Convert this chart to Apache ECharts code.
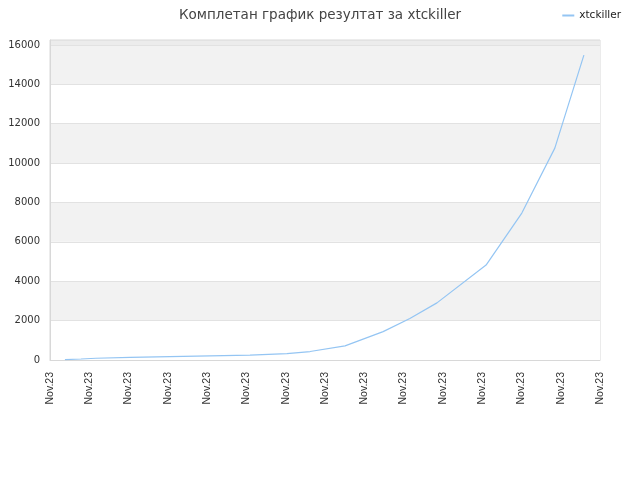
<!DOCTYPE html>
<html>
<head>
<meta charset="utf-8">
<script src="https://cdn.jsdelivr.net/npm/echarts@6/dist/echarts.min.js"></script>
<style>html,body{margin:0;padding:0;background:#fff}#c{width:640px;height:480px}</style>
</head>
<body>
<div id="c"></div>
<script>
// Tick labels along the x axis (15 ticks, all read "Nov.23")
const tickLabels = ["Nov.23","Nov.23","Nov.23","Nov.23","Nov.23","Nov.23","Nov.23","Nov.23","Nov.23","Nov.23","Nov.23","Nov.23","Nov.23","Nov.23","Nov.23"];
// Position of each data point measured in tick intervals from the first tick
const xPositions = [0.38, 0.79, 1.17, 2.04, 3.05, 4.07, 5.09, 6.03, 6.62, 7.51, 8.48, 9.16, 9.85, 11.10, 12.01, 12.85, 13.59];
// Score values for xtckiller
const scores = [20, 50, 90, 130, 170, 210, 250, 320, 430, 720, 1440, 2110, 2900, 4820, 7460, 10760, 15480];
const seriesName = "xtckiller";
const titleText = "Комплетан график резултат за xtckiller";

const data = xPositions.map((x, i) => [x, scores[i]]);
const chart = echarts.init(document.getElementById('c'));
chart.setOption({
  animation: false,
  backgroundColor: '#fff',
  title: {
    text: titleText, left: 'center', top: 3,
    textStyle: { fontFamily: 'DejaVu Sans', fontSize: 13.5, fontWeight: 'normal', color: '#444' }
  },
  legend: {
    right: 14, top: 5, itemWidth: 12, itemHeight: 2, itemGap: 8,
    icon: 'rect',
    textStyle: { fontFamily: 'DejaVu Sans', fontSize: 10.5, color: '#222' },
    data: [seriesName]
  },
  grid: { left: 50, right: 40, top: 40, bottom: 120, show: true, borderColor: '#d8d8d8', borderWidth: 1 },
  xAxis: {
    type: 'value', min: 0, max: tickLabels.length - 1, interval: 1,
    axisLine: { show: true, lineStyle: { color: '#d8d8d8' } },
    axisTick: { show: false },
    splitLine: { show: false },
    axisLabel: {
      rotate: 90, fontFamily: 'Liberation Sans', fontSize: 10.5, color: '#333', margin: 12,
      showMinLabel: true, showMaxLabel: true,
      formatter: v => tickLabels[Math.round(v)] || ''
    }
  },
  yAxis: {
    type: 'value', min: 0, max: 16250, interval: 2000,
    axisLine: { show: true, lineStyle: { color: '#d8d8d8' } },
    axisTick: { show: false },
    axisLabel: { fontFamily: 'DejaVu Sans', fontSize: 10, color: '#333', margin: 10, showMaxLabel: false,
      formatter: v => (v % 2000 === 0 ? String(v) : '') },
    splitLine: { show: true, lineStyle: { color: '#e2e2e2' } },
    splitArea: { show: true, areaStyle: { color: ['#ffffff','#f2f2f2','#ffffff','#f2f2f2','#ffffff','#f2f2f2','#ffffff','#f2f2f2','#ececec'] } }
  },
  series: [{
    name: seriesName, type: 'line', data: data,
    showSymbol: false, symbol: 'none',
    lineStyle: { color: '#94c5f3', width: 1.2 },
    itemStyle: { color: '#94c5f3' }
  }]
});
</script>
</body>
</html>
